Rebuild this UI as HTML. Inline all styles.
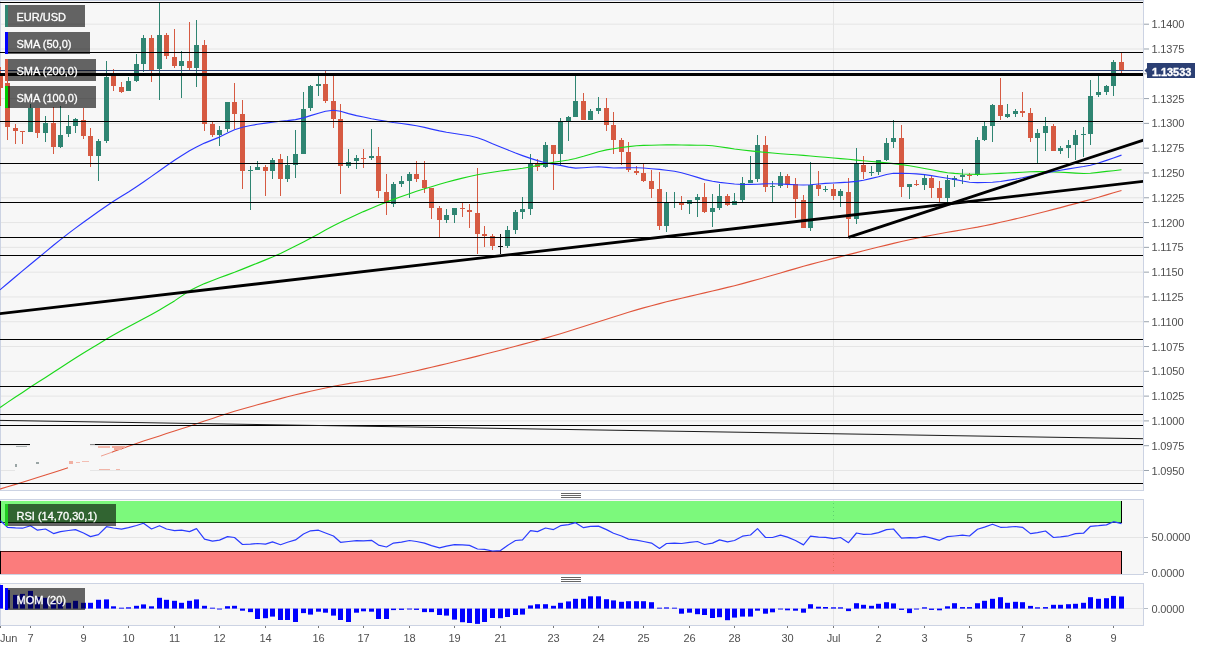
<!DOCTYPE html>
<html><head><meta charset="utf-8"><title>EUR/USD chart</title>
<style>html,body{margin:0;padding:0;background:#fff;}body{width:1214px;height:651px;overflow:hidden;}svg{display:block;}</style></head>
<body>
<svg width="1214" height="651" viewBox="0 0 1214 651" font-family="'Liberation Sans', Arial, sans-serif" font-size="11">
<rect width="1214" height="651" fill="#fff"/>
<rect x="0" y="0" width="1144" height="491" fill="#ccd3e3"/>
<rect x="1" y="1" width="1142" height="489" fill="#f7f7f7"/>
<rect x="0" y="499" width="1144" height="76" fill="#ccd3e3"/>
<rect x="1" y="500" width="1142" height="74" fill="#f7f7f7"/>
<rect x="0" y="583" width="1144" height="43" fill="#ccd3e3"/>
<rect x="1" y="584" width="1142" height="41" fill="#f7f7f7"/>
<g shape-rendering="crispEdges">
<rect x="1" y="23.70" width="1142" height="1" fill="#e5e5e5" shape-rendering="auto"/>
<rect x="1" y="48.49" width="1142" height="1" fill="#e5e5e5" shape-rendering="auto"/>
<rect x="1" y="73.29" width="1142" height="1" fill="#e5e5e5" shape-rendering="auto"/>
<rect x="1" y="98.08" width="1142" height="1" fill="#e5e5e5" shape-rendering="auto"/>
<rect x="1" y="122.88" width="1142" height="1" fill="#e5e5e5" shape-rendering="auto"/>
<rect x="1" y="147.67" width="1142" height="1" fill="#e5e5e5" shape-rendering="auto"/>
<rect x="1" y="172.46" width="1142" height="1" fill="#e5e5e5" shape-rendering="auto"/>
<rect x="1" y="197.26" width="1142" height="1" fill="#e5e5e5" shape-rendering="auto"/>
<rect x="1" y="222.05" width="1142" height="1" fill="#e5e5e5" shape-rendering="auto"/>
<rect x="1" y="246.85" width="1142" height="1" fill="#e5e5e5" shape-rendering="auto"/>
<rect x="1" y="271.64" width="1142" height="1" fill="#e5e5e5" shape-rendering="auto"/>
<rect x="1" y="296.43" width="1142" height="1" fill="#e5e5e5" shape-rendering="auto"/>
<rect x="1" y="321.23" width="1142" height="1" fill="#e5e5e5" shape-rendering="auto"/>
<rect x="1" y="346.02" width="1142" height="1" fill="#e5e5e5" shape-rendering="auto"/>
<rect x="1" y="370.82" width="1142" height="1" fill="#e5e5e5" shape-rendering="auto"/>
<rect x="1" y="395.61" width="1142" height="1" fill="#e5e5e5" shape-rendering="auto"/>
<rect x="1" y="420.40" width="1142" height="1" fill="#e5e5e5" shape-rendering="auto"/>
<rect x="1" y="445.20" width="1142" height="1" fill="#e5e5e5" shape-rendering="auto"/>
<rect x="1" y="469.99" width="1142" height="1" fill="#e5e5e5" shape-rendering="auto"/>
<rect x="15" y="469" width="75" height="3" fill="#f7f7f7"/>
<rect x="833" y="1" width="1" height="489" fill="#e5e5e5"/>
<rect x="833" y="500" width="1" height="74" fill="#e5e5e5"/>
<rect x="833" y="584" width="1" height="41" fill="#e5e5e5"/>
<rect x="1" y="537" width="1142" height="1" fill="#e5e5e5"/>
<rect x="1" y="608" width="1142" height="1" fill="#e5e5e5"/>
<rect x="0" y="67" width="1" height="39" fill="#d65a42"/>
<rect x="-2" y="76" width="5" height="12" fill="#d65a42"/>
<rect x="7" y="75" width="1" height="65" fill="#d65a42"/>
<rect x="5" y="83" width="5" height="44" fill="#d65a42"/>
<rect x="15" y="124" width="1" height="20" fill="#d65a42"/>
<rect x="13" y="128" width="5" height="3" fill="#d65a42"/>
<rect x="22" y="131" width="1" height="13" fill="#d65a42"/>
<rect x="20" y="131" width="5" height="1" fill="#d65a42"/>
<rect x="30" y="104" width="1" height="28" fill="#2f8572"/>
<rect x="28" y="108" width="5" height="24" fill="#2f8572"/>
<rect x="37" y="108" width="1" height="30" fill="#d65a42"/>
<rect x="35" y="108" width="5" height="25" fill="#d65a42"/>
<rect x="45" y="116" width="1" height="26" fill="#2f8572"/>
<rect x="43" y="123" width="5" height="10" fill="#2f8572"/>
<rect x="53" y="107" width="1" height="47" fill="#d65a42"/>
<rect x="51" y="123" width="5" height="24" fill="#d65a42"/>
<rect x="60" y="106" width="1" height="42" fill="#2f8572"/>
<rect x="58" y="135" width="5" height="12" fill="#2f8572"/>
<rect x="68" y="115" width="1" height="22" fill="#2f8572"/>
<rect x="66" y="126" width="5" height="8" fill="#2f8572"/>
<rect x="75" y="118" width="1" height="15" fill="#2f8572"/>
<rect x="73" y="119" width="5" height="7" fill="#2f8572"/>
<rect x="83" y="108" width="1" height="31" fill="#d65a42"/>
<rect x="81" y="120" width="5" height="16" fill="#d65a42"/>
<rect x="90" y="128" width="1" height="39" fill="#d65a42"/>
<rect x="88" y="136" width="5" height="20" fill="#d65a42"/>
<rect x="98" y="139" width="1" height="42" fill="#2f8572"/>
<rect x="96" y="141" width="5" height="15" fill="#2f8572"/>
<rect x="106" y="61" width="1" height="82" fill="#2f8572"/>
<rect x="104" y="77" width="5" height="64" fill="#2f8572"/>
<rect x="113" y="69" width="1" height="22" fill="#d65a42"/>
<rect x="111" y="76" width="5" height="10" fill="#d65a42"/>
<rect x="121" y="82" width="1" height="11" fill="#d65a42"/>
<rect x="119" y="87" width="5" height="5" fill="#d65a42"/>
<rect x="128" y="77" width="1" height="14" fill="#2f8572"/>
<rect x="126" y="81" width="5" height="10" fill="#2f8572"/>
<rect x="136" y="54" width="1" height="28" fill="#2f8572"/>
<rect x="134" y="64" width="5" height="17" fill="#2f8572"/>
<rect x="143" y="35" width="1" height="37" fill="#2f8572"/>
<rect x="141" y="38" width="5" height="26" fill="#2f8572"/>
<rect x="151" y="35" width="1" height="47" fill="#d65a42"/>
<rect x="149" y="38" width="5" height="32" fill="#d65a42"/>
<rect x="159" y="2" width="1" height="98" fill="#2f8572"/>
<rect x="157" y="35" width="5" height="34" fill="#2f8572"/>
<rect x="166" y="33" width="1" height="26" fill="#d65a42"/>
<rect x="164" y="35" width="5" height="21" fill="#d65a42"/>
<rect x="174" y="29" width="1" height="39" fill="#d65a42"/>
<rect x="172" y="57" width="5" height="9" fill="#d65a42"/>
<rect x="181" y="51" width="1" height="47" fill="#2f8572"/>
<rect x="179" y="61" width="5" height="5" fill="#2f8572"/>
<rect x="189" y="22" width="1" height="48" fill="#d65a42"/>
<rect x="187" y="61" width="5" height="7" fill="#d65a42"/>
<rect x="196" y="20" width="1" height="67" fill="#2f8572"/>
<rect x="194" y="45" width="5" height="23" fill="#2f8572"/>
<rect x="204" y="40" width="1" height="91" fill="#d65a42"/>
<rect x="202" y="45" width="5" height="79" fill="#d65a42"/>
<rect x="212" y="121" width="1" height="16" fill="#d65a42"/>
<rect x="210" y="124" width="5" height="11" fill="#d65a42"/>
<rect x="219" y="126" width="1" height="20" fill="#2f8572"/>
<rect x="217" y="130" width="5" height="5" fill="#2f8572"/>
<rect x="227" y="102" width="1" height="30" fill="#2f8572"/>
<rect x="225" y="102" width="5" height="27" fill="#2f8572"/>
<rect x="234" y="83" width="1" height="46" fill="#d65a42"/>
<rect x="232" y="102" width="5" height="12" fill="#d65a42"/>
<rect x="242" y="100" width="1" height="89" fill="#d65a42"/>
<rect x="240" y="114" width="5" height="57" fill="#d65a42"/>
<rect x="250" y="166" width="1" height="44" fill="#2f8572"/>
<rect x="248" y="170" width="5" height="1" fill="#2f8572"/>
<rect x="257" y="161" width="1" height="9" fill="#2f8572"/>
<rect x="255" y="167" width="5" height="3" fill="#2f8572"/>
<rect x="265" y="165" width="1" height="31" fill="#d65a42"/>
<rect x="263" y="167" width="5" height="4" fill="#d65a42"/>
<rect x="272" y="158" width="1" height="21" fill="#2f8572"/>
<rect x="270" y="160" width="5" height="11" fill="#2f8572"/>
<rect x="280" y="154" width="1" height="42" fill="#d65a42"/>
<rect x="278" y="159" width="5" height="20" fill="#d65a42"/>
<rect x="287" y="156" width="1" height="26" fill="#2f8572"/>
<rect x="285" y="165" width="5" height="14" fill="#2f8572"/>
<rect x="295" y="130" width="1" height="48" fill="#2f8572"/>
<rect x="293" y="154" width="5" height="11" fill="#2f8572"/>
<rect x="303" y="92" width="1" height="62" fill="#2f8572"/>
<rect x="301" y="109" width="5" height="45" fill="#2f8572"/>
<rect x="310" y="85" width="1" height="26" fill="#2f8572"/>
<rect x="308" y="86" width="5" height="22" fill="#2f8572"/>
<rect x="318" y="76" width="1" height="20" fill="#2f8572"/>
<rect x="316" y="84" width="5" height="2" fill="#2f8572"/>
<rect x="325" y="71" width="1" height="32" fill="#d65a42"/>
<rect x="323" y="84" width="5" height="17" fill="#d65a42"/>
<rect x="333" y="76" width="1" height="52" fill="#d65a42"/>
<rect x="331" y="101" width="5" height="18" fill="#d65a42"/>
<rect x="340" y="104" width="1" height="90" fill="#d65a42"/>
<rect x="338" y="119" width="5" height="47" fill="#d65a42"/>
<rect x="348" y="149" width="1" height="19" fill="#2f8572"/>
<rect x="346" y="162" width="5" height="4" fill="#2f8572"/>
<rect x="356" y="155" width="1" height="14" fill="#2f8572"/>
<rect x="354" y="158" width="5" height="3" fill="#2f8572"/>
<rect x="363" y="149" width="1" height="19" fill="#d65a42"/>
<rect x="361" y="158" width="5" height="1" fill="#d65a42"/>
<rect x="371" y="129" width="1" height="31" fill="#2f8572"/>
<rect x="369" y="156" width="5" height="2" fill="#2f8572"/>
<rect x="378" y="147" width="1" height="51" fill="#d65a42"/>
<rect x="376" y="156" width="5" height="35" fill="#d65a42"/>
<rect x="386" y="174" width="1" height="41" fill="#d65a42"/>
<rect x="384" y="192" width="5" height="11" fill="#d65a42"/>
<rect x="393" y="182" width="1" height="25" fill="#2f8572"/>
<rect x="391" y="184" width="5" height="20" fill="#2f8572"/>
<rect x="401" y="176" width="1" height="11" fill="#2f8572"/>
<rect x="399" y="181" width="5" height="3" fill="#2f8572"/>
<rect x="409" y="172" width="1" height="26" fill="#2f8572"/>
<rect x="407" y="174" width="5" height="7" fill="#2f8572"/>
<rect x="416" y="161" width="1" height="21" fill="#d65a42"/>
<rect x="414" y="174" width="5" height="5" fill="#d65a42"/>
<rect x="424" y="161" width="1" height="32" fill="#d65a42"/>
<rect x="422" y="180" width="5" height="8" fill="#d65a42"/>
<rect x="431" y="188" width="1" height="31" fill="#d65a42"/>
<rect x="429" y="188" width="5" height="20" fill="#d65a42"/>
<rect x="439" y="206" width="1" height="31" fill="#d65a42"/>
<rect x="437" y="208" width="5" height="12" fill="#d65a42"/>
<rect x="446" y="209" width="1" height="14" fill="#2f8572"/>
<rect x="444" y="215" width="5" height="5" fill="#2f8572"/>
<rect x="454" y="208" width="1" height="15" fill="#2f8572"/>
<rect x="452" y="208" width="5" height="7" fill="#2f8572"/>
<rect x="462" y="202" width="1" height="15" fill="#d65a42"/>
<rect x="460" y="208" width="5" height="1" fill="#d65a42"/>
<rect x="469" y="204" width="1" height="24" fill="#d65a42"/>
<rect x="467" y="210" width="5" height="2" fill="#d65a42"/>
<rect x="477" y="168" width="1" height="86" fill="#d65a42"/>
<rect x="475" y="213" width="5" height="21" fill="#d65a42"/>
<rect x="484" y="226" width="1" height="21" fill="#d65a42"/>
<rect x="482" y="234" width="5" height="2" fill="#d65a42"/>
<rect x="492" y="234" width="1" height="16" fill="#d65a42"/>
<rect x="490" y="236" width="5" height="10" fill="#d65a42"/>
<rect x="500" y="234" width="1" height="20" fill="#111"/>
<rect x="498" y="246" width="5" height="1" fill="#111"/>
<rect x="507" y="226" width="1" height="22" fill="#2f8572"/>
<rect x="505" y="230" width="5" height="16" fill="#2f8572"/>
<rect x="515" y="210" width="1" height="24" fill="#2f8572"/>
<rect x="513" y="212" width="5" height="18" fill="#2f8572"/>
<rect x="522" y="197" width="1" height="22" fill="#2f8572"/>
<rect x="520" y="209" width="5" height="3" fill="#2f8572"/>
<rect x="530" y="154" width="1" height="61" fill="#2f8572"/>
<rect x="528" y="164" width="5" height="45" fill="#2f8572"/>
<rect x="537" y="159" width="1" height="12" fill="#d65a42"/>
<rect x="535" y="164" width="5" height="3" fill="#d65a42"/>
<rect x="545" y="142" width="1" height="26" fill="#2f8572"/>
<rect x="543" y="145" width="5" height="22" fill="#2f8572"/>
<rect x="553" y="145" width="1" height="45" fill="#d65a42"/>
<rect x="551" y="145" width="5" height="9" fill="#d65a42"/>
<rect x="560" y="118" width="1" height="48" fill="#2f8572"/>
<rect x="558" y="122" width="5" height="32" fill="#2f8572"/>
<rect x="568" y="116" width="1" height="25" fill="#2f8572"/>
<rect x="566" y="117" width="5" height="4" fill="#2f8572"/>
<rect x="575" y="76" width="1" height="41" fill="#2f8572"/>
<rect x="573" y="101" width="5" height="16" fill="#2f8572"/>
<rect x="583" y="93" width="1" height="27" fill="#d65a42"/>
<rect x="581" y="101" width="5" height="19" fill="#d65a42"/>
<rect x="590" y="109" width="1" height="11" fill="#2f8572"/>
<rect x="588" y="111" width="5" height="9" fill="#2f8572"/>
<rect x="598" y="97" width="1" height="17" fill="#2f8572"/>
<rect x="596" y="108" width="5" height="3" fill="#2f8572"/>
<rect x="606" y="98" width="1" height="33" fill="#d65a42"/>
<rect x="604" y="108" width="5" height="17" fill="#d65a42"/>
<rect x="613" y="112" width="1" height="42" fill="#d65a42"/>
<rect x="611" y="125" width="5" height="15" fill="#d65a42"/>
<rect x="621" y="138" width="1" height="27" fill="#d65a42"/>
<rect x="619" y="140" width="5" height="12" fill="#d65a42"/>
<rect x="628" y="142" width="1" height="30" fill="#d65a42"/>
<rect x="626" y="152" width="5" height="18" fill="#d65a42"/>
<rect x="636" y="166" width="1" height="9" fill="#d65a42"/>
<rect x="634" y="171" width="5" height="2" fill="#d65a42"/>
<rect x="643" y="164" width="1" height="18" fill="#d65a42"/>
<rect x="641" y="173" width="5" height="8" fill="#d65a42"/>
<rect x="651" y="170" width="1" height="28" fill="#d65a42"/>
<rect x="649" y="181" width="5" height="8" fill="#d65a42"/>
<rect x="659" y="172" width="1" height="58" fill="#d65a42"/>
<rect x="657" y="189" width="5" height="37" fill="#d65a42"/>
<rect x="666" y="192" width="1" height="40" fill="#2f8572"/>
<rect x="664" y="203" width="5" height="23" fill="#2f8572"/>
<rect x="674" y="192" width="1" height="16" fill="#2f8572"/>
<rect x="672" y="202" width="5" height="1" fill="#2f8572"/>
<rect x="681" y="196" width="1" height="14" fill="#d65a42"/>
<rect x="679" y="203" width="5" height="2" fill="#d65a42"/>
<rect x="689" y="200" width="1" height="14" fill="#2f8572"/>
<rect x="687" y="200" width="5" height="4" fill="#2f8572"/>
<rect x="697" y="194" width="1" height="23" fill="#2f8572"/>
<rect x="695" y="197" width="5" height="3" fill="#2f8572"/>
<rect x="704" y="183" width="1" height="30" fill="#d65a42"/>
<rect x="702" y="197" width="5" height="15" fill="#d65a42"/>
<rect x="712" y="194" width="1" height="33" fill="#2f8572"/>
<rect x="710" y="208" width="5" height="4" fill="#2f8572"/>
<rect x="719" y="184" width="1" height="26" fill="#2f8572"/>
<rect x="717" y="196" width="5" height="12" fill="#2f8572"/>
<rect x="727" y="194" width="1" height="12" fill="#d65a42"/>
<rect x="725" y="196" width="5" height="9" fill="#d65a42"/>
<rect x="734" y="193" width="1" height="12" fill="#2f8572"/>
<rect x="732" y="201" width="5" height="4" fill="#2f8572"/>
<rect x="742" y="177" width="1" height="25" fill="#2f8572"/>
<rect x="740" y="183" width="5" height="17" fill="#2f8572"/>
<rect x="750" y="156" width="1" height="27" fill="#2f8572"/>
<rect x="748" y="180" width="5" height="3" fill="#2f8572"/>
<rect x="757" y="135" width="1" height="47" fill="#2f8572"/>
<rect x="755" y="145" width="5" height="34" fill="#2f8572"/>
<rect x="765" y="136" width="1" height="56" fill="#d65a42"/>
<rect x="763" y="145" width="5" height="42" fill="#d65a42"/>
<rect x="772" y="181" width="1" height="22" fill="#2f8572"/>
<rect x="770" y="186" width="5" height="1" fill="#2f8572"/>
<rect x="780" y="172" width="1" height="16" fill="#2f8572"/>
<rect x="778" y="176" width="5" height="10" fill="#2f8572"/>
<rect x="787" y="174" width="1" height="14" fill="#d65a42"/>
<rect x="785" y="176" width="5" height="8" fill="#d65a42"/>
<rect x="795" y="178" width="1" height="40" fill="#d65a42"/>
<rect x="793" y="184" width="5" height="15" fill="#d65a42"/>
<rect x="803" y="195" width="1" height="33" fill="#d65a42"/>
<rect x="801" y="200" width="5" height="28" fill="#d65a42"/>
<rect x="810" y="162" width="1" height="69" fill="#2f8572"/>
<rect x="808" y="185" width="5" height="43" fill="#2f8572"/>
<rect x="818" y="171" width="1" height="25" fill="#d65a42"/>
<rect x="816" y="185" width="5" height="4" fill="#d65a42"/>
<rect x="825" y="186" width="1" height="6" fill="#2f8572"/>
<rect x="823" y="189" width="5" height="1" fill="#2f8572"/>
<rect x="833" y="184" width="1" height="16" fill="#d65a42"/>
<rect x="831" y="189" width="5" height="7" fill="#d65a42"/>
<rect x="840" y="189" width="1" height="18" fill="#2f8572"/>
<rect x="838" y="191" width="5" height="5" fill="#2f8572"/>
<rect x="848" y="178" width="1" height="59" fill="#d65a42"/>
<rect x="846" y="192" width="5" height="27" fill="#d65a42"/>
<rect x="856" y="148" width="1" height="76" fill="#2f8572"/>
<rect x="854" y="164" width="5" height="55" fill="#2f8572"/>
<rect x="863" y="156" width="1" height="23" fill="#d65a42"/>
<rect x="861" y="165" width="5" height="7" fill="#d65a42"/>
<rect x="871" y="166" width="1" height="10" fill="#2f8572"/>
<rect x="869" y="172" width="5" height="1" fill="#2f8572"/>
<rect x="878" y="160" width="1" height="15" fill="#2f8572"/>
<rect x="876" y="160" width="5" height="12" fill="#2f8572"/>
<rect x="886" y="138" width="1" height="23" fill="#2f8572"/>
<rect x="884" y="143" width="5" height="17" fill="#2f8572"/>
<rect x="893" y="120" width="1" height="28" fill="#2f8572"/>
<rect x="891" y="138" width="5" height="4" fill="#2f8572"/>
<rect x="901" y="125" width="1" height="72" fill="#d65a42"/>
<rect x="899" y="138" width="5" height="49" fill="#d65a42"/>
<rect x="909" y="184" width="1" height="15" fill="#2f8572"/>
<rect x="907" y="184" width="5" height="3" fill="#2f8572"/>
<rect x="916" y="180" width="1" height="6" fill="#d65a42"/>
<rect x="914" y="184" width="5" height="1" fill="#d65a42"/>
<rect x="924" y="174" width="1" height="16" fill="#2f8572"/>
<rect x="922" y="178" width="5" height="7" fill="#2f8572"/>
<rect x="931" y="176" width="1" height="22" fill="#d65a42"/>
<rect x="929" y="178" width="5" height="10" fill="#d65a42"/>
<rect x="939" y="181" width="1" height="21" fill="#d65a42"/>
<rect x="937" y="188" width="5" height="10" fill="#d65a42"/>
<rect x="947" y="175" width="1" height="27" fill="#2f8572"/>
<rect x="945" y="180" width="5" height="18" fill="#2f8572"/>
<rect x="954" y="176" width="1" height="11" fill="#2f8572"/>
<rect x="952" y="178" width="5" height="2" fill="#2f8572"/>
<rect x="962" y="169" width="1" height="15" fill="#2f8572"/>
<rect x="960" y="175" width="5" height="2" fill="#2f8572"/>
<rect x="969" y="173" width="1" height="7" fill="#d65a42"/>
<rect x="967" y="175" width="5" height="1" fill="#d65a42"/>
<rect x="977" y="137" width="1" height="39" fill="#2f8572"/>
<rect x="975" y="140" width="5" height="35" fill="#2f8572"/>
<rect x="984" y="121" width="1" height="20" fill="#2f8572"/>
<rect x="982" y="126" width="5" height="14" fill="#2f8572"/>
<rect x="992" y="104" width="1" height="38" fill="#2f8572"/>
<rect x="990" y="105" width="5" height="21" fill="#2f8572"/>
<rect x="1000" y="78" width="1" height="42" fill="#d65a42"/>
<rect x="998" y="105" width="5" height="11" fill="#d65a42"/>
<rect x="1007" y="104" width="1" height="14" fill="#2f8572"/>
<rect x="1005" y="114" width="5" height="3" fill="#2f8572"/>
<rect x="1015" y="109" width="1" height="8" fill="#2f8572"/>
<rect x="1013" y="111" width="5" height="3" fill="#2f8572"/>
<rect x="1022" y="92" width="1" height="25" fill="#d65a42"/>
<rect x="1020" y="111" width="5" height="2" fill="#d65a42"/>
<rect x="1030" y="108" width="1" height="34" fill="#d65a42"/>
<rect x="1028" y="113" width="5" height="25" fill="#d65a42"/>
<rect x="1037" y="129" width="1" height="34" fill="#2f8572"/>
<rect x="1035" y="133" width="5" height="5" fill="#2f8572"/>
<rect x="1045" y="117" width="1" height="34" fill="#2f8572"/>
<rect x="1043" y="126" width="5" height="7" fill="#2f8572"/>
<rect x="1053" y="124" width="1" height="27" fill="#d65a42"/>
<rect x="1051" y="126" width="5" height="25" fill="#d65a42"/>
<rect x="1060" y="146" width="1" height="8" fill="#2f8572"/>
<rect x="1058" y="148" width="5" height="3" fill="#2f8572"/>
<rect x="1068" y="140" width="1" height="18" fill="#2f8572"/>
<rect x="1066" y="145" width="5" height="3" fill="#2f8572"/>
<rect x="1075" y="130" width="1" height="30" fill="#2f8572"/>
<rect x="1073" y="135" width="5" height="10" fill="#2f8572"/>
<rect x="1083" y="127" width="1" height="30" fill="#2f8572"/>
<rect x="1081" y="134" width="5" height="1" fill="#2f8572"/>
<rect x="1090" y="80" width="1" height="65" fill="#2f8572"/>
<rect x="1088" y="96" width="5" height="38" fill="#2f8572"/>
<rect x="1098" y="73" width="1" height="24" fill="#2f8572"/>
<rect x="1096" y="92" width="5" height="3" fill="#2f8572"/>
<rect x="1106" y="85" width="1" height="10" fill="#2f8572"/>
<rect x="1104" y="86" width="5" height="6" fill="#2f8572"/>
<rect x="1113" y="60" width="1" height="36" fill="#2f8572"/>
<rect x="1111" y="62" width="5" height="24" fill="#2f8572"/>
<rect x="1121" y="53" width="1" height="20" fill="#d65a42"/>
<rect x="1119" y="62" width="5" height="8" fill="#d65a42"/>
</g>
<polyline points="0.0,489.0 0.5,488.9 7.5,486.8 15.5,484.4 22.5,482.2 30.5,479.8 37.5,477.6 45.5,475.0 53.5,472.5 60.5,470.2 68.0,467.7" fill="none" stroke="#e0563c" stroke-width="1.1" stroke-linejoin="round" />
<polyline points="101.0,456.1 112.0,452.2" fill="none" stroke="#eea091" stroke-width="1.0" stroke-linejoin="round" />
<polyline points="112.0,452.2 113.5,451.6 121.5,448.7 128.5,446.3 136.5,443.5 143.5,441.1 151.5,438.5 159.5,435.9 166.5,433.6 174.5,431.0 181.5,428.8 189.5,426.2 196.5,423.8 204.5,421.1 212.5,418.4 219.5,416.1 227.5,413.5 234.5,411.3 242.5,409.0 250.5,406.7 257.5,404.8 265.5,402.6 272.5,400.7 280.5,398.6 287.5,396.8 295.5,394.8 303.5,392.9 310.5,391.3 318.5,389.5 325.5,388.0 333.5,386.4 340.5,385.0 348.5,383.6 356.5,382.3 363.5,381.2 371.5,379.8 378.5,378.6 386.5,377.1 393.5,375.7 401.5,374.0 409.5,372.2 416.5,370.7 424.5,368.9 431.5,367.2 439.5,365.4 446.5,363.7 454.5,361.8 462.5,359.8 469.5,358.1 477.5,356.1 484.5,354.3 492.5,352.3 500.5,350.2 507.5,348.4 515.5,346.2 522.5,344.4 530.5,342.2 537.5,340.3 545.5,338.1 553.5,335.8 560.5,333.7 568.5,331.3 575.5,329.1 583.5,326.5 590.5,324.3 598.5,321.7 606.5,319.2 613.5,316.9 621.5,314.4 628.5,312.3 636.5,309.9 643.5,307.9 651.5,305.7 659.5,303.6 666.5,301.8 674.5,299.9 681.5,298.2 689.5,296.4 697.5,294.5 704.5,292.9 712.5,291.0 719.5,289.4 727.5,287.4 734.5,285.7 742.5,283.6 750.5,281.4 757.5,279.5 765.5,277.3 772.5,275.3 780.5,273.0 787.5,270.9 795.5,268.6 803.5,266.3 810.5,264.4 818.5,262.3 825.5,260.5 833.5,258.4 840.5,256.6 848.5,254.6 856.5,252.6 863.5,250.8 871.5,248.8 878.5,247.0 886.5,245.1 893.5,243.4 901.5,241.5 909.5,239.7 916.5,238.2 924.5,236.6 931.5,235.2 939.5,233.7 947.5,232.3 954.5,231.1 962.5,229.7 969.5,228.5 977.5,227.1 984.5,225.7 992.5,224.1 1000.5,222.3 1007.5,220.7 1015.5,218.9 1022.5,217.2 1030.5,215.3 1037.5,213.5 1045.5,211.5 1053.5,209.4 1060.5,207.6 1068.5,205.4 1075.5,203.6 1083.5,201.4 1090.5,199.5 1098.5,197.3 1106.5,194.9 1113.5,192.8 1121.5,190.5" fill="none" stroke="#e0563c" stroke-width="1.1" stroke-linejoin="round" />
<polyline points="0.0,407.5 0.5,407.2 7.5,402.4 15.5,397.0 22.5,392.4 30.5,387.1 37.5,382.6 45.5,377.4 53.5,372.2 60.5,367.7 68.5,362.6 75.5,358.1 83.5,353.1 90.5,348.8 98.5,343.9 106.5,339.1 113.5,335.0 121.5,330.6 128.5,326.8 136.5,322.5 143.5,318.7 151.5,314.4 159.5,309.9 166.5,305.8 174.5,300.9 181.5,296.1 189.5,290.7 196.5,287.2 204.5,283.6 212.5,280.5 219.5,277.8 227.5,274.9 234.5,272.3 242.5,269.1 250.5,265.9 257.5,263.1 265.5,259.9 272.5,257.0 280.5,253.4 287.5,250.0 295.5,246.0 303.5,241.9 310.5,238.2 318.5,234.0 325.5,230.1 333.5,225.8 340.5,222.3 348.5,218.5 356.5,214.8 363.5,211.6 371.5,208.2 378.5,205.3 386.5,202.1 393.5,199.4 401.5,196.5 409.5,193.7 416.5,191.3 424.5,188.8 431.5,186.7 439.5,184.3 446.5,182.3 454.5,180.1 462.5,178.1 469.5,176.5 477.5,174.8 484.5,173.5 492.5,172.2 500.5,171.0 507.5,170.1 515.5,169.2 522.5,168.3 530.5,167.0 537.5,165.4 545.5,163.7 553.5,162.3 560.5,161.3 568.5,160.0 575.5,158.5 583.5,156.3 590.5,154.2 598.5,151.8 606.5,149.9 613.5,148.7 621.5,147.5 628.5,146.6 636.5,145.8 643.5,145.4 651.5,145.2 659.5,145.0 666.5,144.9 674.5,144.9 681.5,145.0 689.5,145.1 697.5,145.2 704.5,145.3 712.5,145.8 719.5,146.7 727.5,147.9 734.5,149.0 742.5,150.0 750.5,150.9 757.5,151.6 765.5,152.4 772.5,153.0 780.5,153.7 787.5,154.2 795.5,154.8 803.5,155.4 810.5,156.0 818.5,156.7 825.5,157.3 833.5,158.0 840.5,158.6 848.5,159.3 856.5,160.1 863.5,160.7 871.5,161.5 878.5,162.1 886.5,162.9 893.5,163.6 901.5,164.6 909.5,165.8 916.5,167.0 924.5,168.5 931.5,169.8 939.5,171.4 947.5,172.7 954.5,173.4 962.5,174.0 969.5,174.3 977.5,174.4 984.5,174.2 992.5,173.8 1000.5,173.4 1007.5,173.0 1015.5,172.6 1022.5,172.2 1030.5,171.8 1037.5,171.6 1045.5,171.6 1053.5,171.9 1060.5,172.2 1068.5,172.6 1075.5,173.1 1083.5,173.5 1090.5,173.3 1098.5,172.4 1106.5,171.4 1113.5,170.7 1121.5,169.8" fill="none" stroke="#1ad81a" stroke-width="1.15" stroke-linejoin="round" />
<polyline points="0.0,289.8 0.5,289.4 7.5,283.5 15.5,276.8 22.5,270.9 30.5,264.3 37.5,258.5 45.5,251.9 53.5,245.3 60.5,239.6 68.5,233.4 75.5,228.1 83.5,222.2 90.5,217.2 98.5,211.5 106.5,206.0 113.5,201.3 121.5,196.2 128.5,191.9 136.5,186.7 143.5,182.0 151.5,176.4 159.5,170.7 166.5,165.8 174.5,160.3 181.5,155.7 189.5,150.8 196.5,147.0 204.5,143.1 212.5,139.9 219.5,137.1 227.5,133.1 234.5,129.7 242.5,127.2 250.5,125.5 257.5,124.3 265.5,123.1 272.5,122.2 280.5,121.3 287.5,120.6 295.5,119.6 303.5,117.9 310.5,115.6 318.5,113.2 325.5,111.3 333.5,110.2 340.5,111.3 348.5,113.6 356.5,115.6 363.5,117.0 371.5,118.7 378.5,120.0 386.5,121.4 393.5,122.5 401.5,123.5 409.5,124.6 416.5,125.7 424.5,127.4 431.5,129.1 439.5,130.9 446.5,132.3 454.5,133.5 462.5,134.7 469.5,135.8 477.5,137.7 484.5,140.3 492.5,143.8 500.5,147.0 507.5,149.8 515.5,153.0 522.5,155.6 530.5,158.4 537.5,160.6 545.5,162.7 553.5,164.2 560.5,165.4 568.5,167.1 575.5,168.1 583.5,167.7 590.5,167.2 598.5,166.8 606.5,167.4 613.5,168.0 621.5,167.9 628.5,167.8 636.5,167.7 643.5,168.0 651.5,168.7 659.5,169.4 666.5,170.2 674.5,171.3 681.5,172.7 689.5,175.0 697.5,177.4 704.5,179.6 712.5,181.3 719.5,182.4 727.5,183.3 734.5,184.0 742.5,184.5 750.5,184.4 757.5,184.2 765.5,183.8 772.5,183.7 780.5,184.0 787.5,184.4 795.5,184.8 803.5,185.0 810.5,184.7 818.5,184.0 825.5,183.4 833.5,183.0 840.5,182.6 848.5,182.1 856.5,181.4 863.5,180.2 871.5,178.4 878.5,176.8 886.5,174.5 893.5,173.3 901.5,173.3 909.5,173.5 916.5,173.9 924.5,174.6 931.5,175.6 939.5,177.0 947.5,178.3 954.5,179.4 962.5,181.0 969.5,182.2 977.5,182.6 984.5,182.5 992.5,182.2 1000.5,181.5 1007.5,180.4 1015.5,179.1 1022.5,177.8 1030.5,176.1 1037.5,174.6 1045.5,173.1 1053.5,171.5 1060.5,170.3 1068.5,168.9 1075.5,167.8 1083.5,166.5 1090.5,165.2 1098.5,163.0 1106.5,160.4 1113.5,158.0 1121.5,155.1" fill="none" stroke="#2a38ff" stroke-width="1.15" stroke-linejoin="round" />
<g shape-rendering="crispEdges">
<rect x="0" y="2" width="1143" height="1" fill="#000"/>
<rect x="0" y="52" width="1143" height="1" fill="#000"/>
<rect x="0" y="121" width="1143" height="1" fill="#000"/>
<rect x="0" y="163" width="1143" height="1" fill="#000"/>
<rect x="0" y="202" width="1143" height="1" fill="#000"/>
<rect x="0" y="237" width="1143" height="1" fill="#000"/>
<rect x="0" y="255" width="1143" height="1" fill="#000"/>
<rect x="0" y="339" width="1143" height="1" fill="#000"/>
<rect x="0" y="386" width="1143" height="1" fill="#000"/>
<rect x="0" y="414" width="1143" height="1" fill="#000"/>
<rect x="0" y="425" width="1143" height="1" fill="#000"/>
<rect x="0" y="444" width="1143" height="1" fill="#000"/>
<rect x="0" y="483" width="1143" height="1" fill="#000"/>
<rect x="0" y="73" width="1143" height="3" fill="#000"/>
<rect x="30" y="443" width="60" height="4" fill="#f7f7f7"/>
<rect x="90" y="444" width="5" height="1" fill="#888"/>
<rect x="98" y="446" width="12" height="2" fill="#f3b9ad" shape-rendering="auto"/>
<rect x="112" y="446" width="13" height="2" fill="#f0a899" shape-rendering="auto"/>
<rect x="114" y="448" width="8" height="2" fill="#f0a899" shape-rendering="auto"/>
<rect x="69" y="461" width="4" height="3" fill="#f1b0a2" shape-rendering="auto"/>
<rect x="76" y="462" width="4" height="1" fill="#f3beb3" shape-rendering="auto"/>
<rect x="82" y="461" width="7" height="1" fill="#f3beb3" shape-rendering="auto"/>
<rect x="99" y="469" width="11" height="1" fill="#f1b5a8" shape-rendering="auto"/>
<rect x="116" y="469" width="4" height="1" fill="#f1b5a8" shape-rendering="auto"/>
<rect x="16" y="446" width="11" height="1" fill="#a9b0b0" shape-rendering="auto"/>
<rect x="15" y="464" width="2" height="3" fill="#9aa5a5" shape-rendering="auto"/>
<rect x="36" y="462" width="3" height="2" fill="#9aa5a5" shape-rendering="auto"/>
<rect x="0" y="70" width="1143" height="1" fill="#2d4175"/>
</g>
<clipPath id="mc"><rect x="0" y="1" width="1143" height="489"/></clipPath>
<g clip-path="url(#mc)">
<line x1="0" y1="420.4" x2="1143" y2="438.7" stroke="#1a1a1a" stroke-width="1"/>
<line x1="-10" y1="314.76" x2="1153.5" y2="180.24" stroke="#000" stroke-width="2.8"/>
<line x1="848.5" y1="237.3" x2="1153.5" y2="136.8" stroke="#000" stroke-width="2.8"/>
</g>
<g shape-rendering="crispEdges">
<rect x="0" y="501" width="1122" height="22" fill="#7cf97c"/>
<rect x="0" y="551" width="1122" height="23" fill="#fb7c7c"/>
<rect x="0" y="522" width="1122" height="1" fill="#134a13"/>
<rect x="0" y="551" width="1122" height="1" fill="#4a0c0c"/>
<rect x="0" y="501" width="1" height="22" fill="#000"/>
<rect x="0" y="551" width="1" height="23" fill="#000"/>
<rect x="1121" y="501" width="1" height="22" fill="#000"/>
<rect x="1121" y="551" width="1" height="23" fill="#000"/>
<rect x="833" y="503" width="1" height="1" fill="#5fcf6f"/>
<rect x="833" y="507" width="1" height="1" fill="#5fcf6f"/>
<rect x="833" y="511" width="1" height="1" fill="#5fcf6f"/>
<rect x="833" y="515" width="1" height="1" fill="#5fcf6f"/>
<rect x="833" y="519" width="1" height="1" fill="#5fcf6f"/>
<rect x="833" y="554" width="1" height="1" fill="#e06a5a"/>
<rect x="833" y="558" width="1" height="1" fill="#e06a5a"/>
<rect x="833" y="562" width="1" height="1" fill="#e06a5a"/>
<rect x="833" y="566" width="1" height="1" fill="#e06a5a"/>
<rect x="833" y="570" width="1" height="1" fill="#e06a5a"/>
</g>
<g fill="#0000ff">
<rect x="-2" y="585.0" width="5" height="23.6"/>
<rect x="5" y="590.0" width="5" height="18.6"/>
<rect x="13" y="594.9" width="5" height="13.7"/>
<rect x="20" y="593.9" width="5" height="14.7"/>
<rect x="28" y="590.9" width="5" height="17.7"/>
<rect x="35" y="596.9" width="5" height="11.7"/>
<rect x="43" y="597.8" width="5" height="10.8"/>
<rect x="51" y="600.8" width="5" height="7.8"/>
<rect x="58" y="601.8" width="5" height="6.8"/>
<rect x="66" y="602.8" width="5" height="5.8"/>
<rect x="73" y="600.8" width="5" height="7.8"/>
<rect x="81" y="602.8" width="5" height="5.8"/>
<rect x="88" y="602.8" width="5" height="5.8"/>
<rect x="96" y="599.8" width="5" height="8.8"/>
<rect x="104" y="599.4" width="5" height="9.2"/>
<rect x="111" y="606.3" width="5" height="2.3"/>
<rect x="119" y="607.7" width="5" height="0.9"/>
<rect x="126" y="607.3" width="5" height="1.3"/>
<rect x="134" y="605.8" width="5" height="2.8"/>
<rect x="141" y="604.4" width="5" height="4.2"/>
<rect x="149" y="606.3" width="5" height="2.3"/>
<rect x="157" y="597.8" width="5" height="10.8"/>
<rect x="164" y="599.8" width="5" height="8.8"/>
<rect x="172" y="600.8" width="5" height="7.8"/>
<rect x="179" y="602.8" width="5" height="5.8"/>
<rect x="187" y="600.8" width="5" height="7.8"/>
<rect x="194" y="599.4" width="5" height="9.2"/>
<rect x="202" y="605.8" width="5" height="2.8"/>
<rect x="210" y="607.7" width="5" height="0.9"/>
<rect x="217" y="608.6" width="5" height="0.9"/>
<rect x="225" y="606.2" width="5" height="2.4"/>
<rect x="232" y="605.8" width="5" height="2.8"/>
<rect x="240" y="608.6" width="5" height="2.1"/>
<rect x="248" y="608.6" width="5" height="3.5"/>
<rect x="255" y="608.6" width="5" height="10.4"/>
<rect x="263" y="608.6" width="5" height="9.6"/>
<rect x="270" y="608.6" width="5" height="8.0"/>
<rect x="278" y="608.6" width="5" height="11.4"/>
<rect x="285" y="608.6" width="5" height="11.4"/>
<rect x="293" y="608.6" width="5" height="13.4"/>
<rect x="301" y="608.6" width="5" height="4.5"/>
<rect x="308" y="608.6" width="5" height="6.0"/>
<rect x="316" y="608.6" width="5" height="3.1"/>
<rect x="323" y="608.6" width="5" height="4.1"/>
<rect x="331" y="608.6" width="5" height="7.0"/>
<rect x="338" y="608.6" width="5" height="11.4"/>
<rect x="346" y="608.6" width="5" height="13.4"/>
<rect x="354" y="608.6" width="5" height="4.1"/>
<rect x="361" y="608.6" width="5" height="2.7"/>
<rect x="369" y="608.6" width="5" height="3.1"/>
<rect x="376" y="608.6" width="5" height="10.4"/>
<rect x="384" y="608.6" width="5" height="10.4"/>
<rect x="391" y="608.6" width="5" height="1.5"/>
<rect x="399" y="608.6" width="5" height="1.3"/>
<rect x="407" y="608.6" width="5" height="0.9"/>
<rect x="414" y="608.6" width="5" height="1.3"/>
<rect x="422" y="608.6" width="5" height="3.5"/>
<rect x="429" y="608.6" width="5" height="3.5"/>
<rect x="437" y="608.6" width="5" height="6.4"/>
<rect x="444" y="608.6" width="5" height="7.0"/>
<rect x="452" y="608.6" width="5" height="11.0"/>
<rect x="460" y="608.6" width="5" height="13.6"/>
<rect x="467" y="608.6" width="5" height="14.4"/>
<rect x="475" y="608.6" width="5" height="15.3"/>
<rect x="482" y="608.6" width="5" height="13.4"/>
<rect x="490" y="608.6" width="5" height="9.4"/>
<rect x="498" y="608.6" width="5" height="9.6"/>
<rect x="505" y="608.6" width="5" height="8.4"/>
<rect x="513" y="608.6" width="5" height="6.4"/>
<rect x="520" y="608.6" width="5" height="6.0"/>
<rect x="528" y="605.4" width="5" height="3.2"/>
<rect x="535" y="604.2" width="5" height="4.4"/>
<rect x="543" y="604.2" width="5" height="4.4"/>
<rect x="551" y="605.8" width="5" height="2.8"/>
<rect x="558" y="602.8" width="5" height="5.8"/>
<rect x="566" y="601.4" width="5" height="7.2"/>
<rect x="573" y="598.8" width="5" height="9.8"/>
<rect x="581" y="598.8" width="5" height="9.8"/>
<rect x="588" y="596.3" width="5" height="12.3"/>
<rect x="596" y="596.3" width="5" height="12.3"/>
<rect x="604" y="599.2" width="5" height="9.4"/>
<rect x="611" y="600.4" width="5" height="8.2"/>
<rect x="619" y="601.8" width="5" height="6.8"/>
<rect x="626" y="601.2" width="5" height="7.4"/>
<rect x="634" y="601.2" width="5" height="7.4"/>
<rect x="641" y="601.2" width="5" height="7.4"/>
<rect x="649" y="602.2" width="5" height="6.4"/>
<rect x="657" y="607.7" width="5" height="0.9"/>
<rect x="664" y="607.4" width="5" height="1.2"/>
<rect x="672" y="607.7" width="5" height="0.9"/>
<rect x="679" y="608.6" width="5" height="5.1"/>
<rect x="687" y="608.6" width="5" height="4.1"/>
<rect x="695" y="608.6" width="5" height="5.6"/>
<rect x="702" y="608.6" width="5" height="6.4"/>
<rect x="710" y="608.6" width="5" height="9.4"/>
<rect x="717" y="608.6" width="5" height="8.6"/>
<rect x="725" y="608.6" width="5" height="11.6"/>
<rect x="732" y="608.6" width="5" height="9.0"/>
<rect x="740" y="608.6" width="5" height="8.0"/>
<rect x="748" y="608.6" width="5" height="8.0"/>
<rect x="755" y="608.6" width="5" height="2.1"/>
<rect x="763" y="608.6" width="5" height="5.1"/>
<rect x="770" y="608.6" width="5" height="3.7"/>
<rect x="778" y="608.6" width="5" height="0.9"/>
<rect x="785" y="608.6" width="5" height="1.7"/>
<rect x="793" y="608.6" width="5" height="2.1"/>
<rect x="801" y="608.6" width="5" height="4.1"/>
<rect x="808" y="604.2" width="5" height="4.4"/>
<rect x="816" y="606.7" width="5" height="1.9"/>
<rect x="823" y="607.0" width="5" height="1.6"/>
<rect x="831" y="607.3" width="5" height="1.3"/>
<rect x="838" y="607.3" width="5" height="1.3"/>
<rect x="846" y="608.6" width="5" height="2.5"/>
<rect x="854" y="603.2" width="5" height="5.4"/>
<rect x="861" y="604.8" width="5" height="3.8"/>
<rect x="869" y="605.8" width="5" height="2.8"/>
<rect x="876" y="603.8" width="5" height="4.8"/>
<rect x="884" y="602.2" width="5" height="6.4"/>
<rect x="891" y="603.4" width="5" height="5.2"/>
<rect x="899" y="608.6" width="5" height="1.3"/>
<rect x="907" y="608.6" width="5" height="4.5"/>
<rect x="914" y="608.6" width="5" height="0.9"/>
<rect x="922" y="607.3" width="5" height="1.3"/>
<rect x="929" y="608.6" width="5" height="1.3"/>
<rect x="937" y="608.6" width="5" height="1.7"/>
<rect x="945" y="606.3" width="5" height="2.3"/>
<rect x="952" y="603.2" width="5" height="5.4"/>
<rect x="960" y="607.1" width="5" height="1.5"/>
<rect x="967" y="607.1" width="5" height="1.5"/>
<rect x="975" y="603.2" width="5" height="5.4"/>
<rect x="982" y="600.8" width="5" height="7.8"/>
<rect x="990" y="598.8" width="5" height="9.8"/>
<rect x="998" y="597.2" width="5" height="11.4"/>
<rect x="1005" y="602.8" width="5" height="5.8"/>
<rect x="1013" y="601.8" width="5" height="6.8"/>
<rect x="1020" y="602.2" width="5" height="6.4"/>
<rect x="1028" y="605.9" width="5" height="2.7"/>
<rect x="1035" y="607.3" width="5" height="1.3"/>
<rect x="1043" y="607.1" width="5" height="1.5"/>
<rect x="1051" y="604.8" width="5" height="3.8"/>
<rect x="1058" y="604.8" width="5" height="3.8"/>
<rect x="1066" y="604.2" width="5" height="4.4"/>
<rect x="1073" y="603.8" width="5" height="4.8"/>
<rect x="1081" y="602.8" width="5" height="5.8"/>
<rect x="1088" y="597.2" width="5" height="11.4"/>
<rect x="1096" y="598.8" width="5" height="9.8"/>
<rect x="1104" y="598.2" width="5" height="10.4"/>
<rect x="1111" y="595.9" width="5" height="12.7"/>
<rect x="1119" y="596.5" width="5" height="12.1"/>
</g>
<polyline points="0.5,520.7 7.5,527.3 15.5,527.9 22.5,528.2 30.5,525.7 37.5,530.2 45.5,529.0 53.5,533.6 60.5,531.6 68.5,530.5 75.5,529.6 83.5,533.0 90.5,536.6 98.5,534.6 106.5,526.7 113.5,528.0 121.5,529.2 128.5,527.7 136.5,525.5 143.5,523.3 151.5,529.0 159.5,525.7 166.5,529.0 174.5,530.6 181.5,530.2 189.5,531.6 196.5,528.6 204.5,539.1 212.5,541.1 219.5,540.1 227.5,536.6 234.5,537.5 242.5,544.5 250.5,544.1 257.5,543.5 265.5,544.1 272.5,541.9 280.5,544.7 287.5,542.3 295.5,539.9 303.5,534.0 310.5,530.8 318.5,530.2 325.5,533.0 333.5,536.0 340.5,542.3 348.5,541.5 356.5,540.7 363.5,540.9 371.5,540.3 378.5,545.1 386.5,547.0 393.5,543.1 401.5,542.1 409.5,540.5 416.5,541.5 424.5,543.1 431.5,545.6 439.5,547.8 446.5,546.2 454.5,544.7 462.5,544.9 469.5,545.4 477.5,549.0 484.5,549.4 492.5,551.0 500.5,550.6 507.5,545.4 515.5,540.5 522.5,539.9 530.5,530.6 537.5,531.6 545.5,528.0 553.5,529.6 560.5,525.7 568.5,524.7 575.5,522.7 583.5,527.7 590.5,526.3 598.5,526.1 606.5,529.6 613.5,533.2 621.5,536.0 628.5,539.1 636.5,540.1 643.5,541.5 651.5,543.1 659.5,548.4 666.5,543.5 674.5,543.1 681.5,543.5 689.5,542.3 697.5,541.5 704.5,544.5 712.5,543.1 719.5,539.9 727.5,541.9 734.5,540.5 742.5,536.2 750.5,535.0 757.5,528.6 765.5,537.5 772.5,537.5 780.5,535.2 787.5,537.1 795.5,540.5 803.5,544.9 810.5,536.2 818.5,537.1 825.5,537.3 833.5,538.7 840.5,537.5 848.5,542.7 856.5,533.0 863.5,534.4 871.5,534.2 878.5,532.6 886.5,529.6 893.5,529.0 901.5,538.1 909.5,537.7 916.5,537.9 924.5,536.4 931.5,538.1 939.5,540.3 947.5,536.6 954.5,536.0 962.5,535.2 969.5,536.0 977.5,529.2 984.5,527.1 992.5,524.3 1000.5,527.3 1007.5,527.1 1015.5,526.5 1022.5,527.3 1030.5,533.6 1037.5,532.6 1045.5,531.0 1053.5,537.5 1060.5,536.8 1068.5,535.8 1075.5,533.6 1083.5,533.2 1090.5,526.3 1098.5,525.7 1106.5,524.9 1113.5,521.7 1121.5,523.7" fill="none" stroke="#2a3cff" stroke-width="1.2" stroke-linejoin="round" />
<g shape-rendering="crispEdges">
<rect x="561" y="493" width="20" height="1" fill="#666"/>
<rect x="561" y="495" width="20" height="1" fill="#666"/>
<rect x="561" y="497" width="20" height="1" fill="#666"/>
<rect x="561" y="577" width="20" height="1" fill="#666"/>
<rect x="561" y="579" width="20" height="1" fill="#666"/>
<rect x="561" y="581" width="20" height="1" fill="#666"/>
<rect x="1144" y="23.70" width="5" height="1" fill="#9aa3ad" shape-rendering="auto"/>
<rect x="1144" y="48.49" width="5" height="1" fill="#9aa3ad" shape-rendering="auto"/>
<rect x="1144" y="73.29" width="5" height="1" fill="#9aa3ad" shape-rendering="auto"/>
<rect x="1144" y="98.08" width="5" height="1" fill="#9aa3ad" shape-rendering="auto"/>
<rect x="1144" y="122.88" width="5" height="1" fill="#9aa3ad" shape-rendering="auto"/>
<rect x="1144" y="147.67" width="5" height="1" fill="#9aa3ad" shape-rendering="auto"/>
<rect x="1144" y="172.46" width="5" height="1" fill="#9aa3ad" shape-rendering="auto"/>
<rect x="1144" y="197.26" width="5" height="1" fill="#9aa3ad" shape-rendering="auto"/>
<rect x="1144" y="222.05" width="5" height="1" fill="#9aa3ad" shape-rendering="auto"/>
<rect x="1144" y="246.85" width="5" height="1" fill="#9aa3ad" shape-rendering="auto"/>
<rect x="1144" y="271.64" width="5" height="1" fill="#9aa3ad" shape-rendering="auto"/>
<rect x="1144" y="296.43" width="5" height="1" fill="#9aa3ad" shape-rendering="auto"/>
<rect x="1144" y="321.23" width="5" height="1" fill="#9aa3ad" shape-rendering="auto"/>
<rect x="1144" y="346.02" width="5" height="1" fill="#9aa3ad" shape-rendering="auto"/>
<rect x="1144" y="370.82" width="5" height="1" fill="#9aa3ad" shape-rendering="auto"/>
<rect x="1144" y="395.61" width="5" height="1" fill="#9aa3ad" shape-rendering="auto"/>
<rect x="1144" y="420.40" width="5" height="1" fill="#9aa3ad" shape-rendering="auto"/>
<rect x="1144" y="445.20" width="5" height="1" fill="#9aa3ad" shape-rendering="auto"/>
<rect x="1144" y="469.99" width="5" height="1" fill="#9aa3ad" shape-rendering="auto"/>
<rect x="1144" y="537" width="4" height="1" fill="#b5bcc4"/>
<rect x="1144" y="572" width="4" height="1" fill="#b5bcc4"/>
<rect x="1144" y="608" width="4" height="1" fill="#b5bcc4"/>
<rect x="0" y="626" width="1" height="2" fill="#777"/>
<rect x="30" y="626" width="1" height="2" fill="#777"/>
<rect x="83" y="626" width="1" height="2" fill="#777"/>
<rect x="128" y="626" width="1" height="2" fill="#777"/>
<rect x="174" y="626" width="1" height="2" fill="#777"/>
<rect x="219" y="626" width="1" height="2" fill="#777"/>
<rect x="265" y="626" width="1" height="2" fill="#777"/>
<rect x="318" y="626" width="1" height="2" fill="#777"/>
<rect x="363" y="626" width="1" height="2" fill="#777"/>
<rect x="409" y="626" width="1" height="2" fill="#777"/>
<rect x="454" y="626" width="1" height="2" fill="#777"/>
<rect x="500" y="626" width="1" height="2" fill="#777"/>
<rect x="553" y="626" width="1" height="2" fill="#777"/>
<rect x="598" y="626" width="1" height="2" fill="#777"/>
<rect x="643" y="626" width="1" height="2" fill="#777"/>
<rect x="689" y="626" width="1" height="2" fill="#777"/>
<rect x="734" y="626" width="1" height="2" fill="#777"/>
<rect x="787" y="626" width="1" height="2" fill="#777"/>
<rect x="833" y="626" width="1" height="2" fill="#777"/>
<rect x="878" y="626" width="1" height="2" fill="#777"/>
<rect x="924" y="626" width="1" height="2" fill="#777"/>
<rect x="969" y="626" width="1" height="2" fill="#777"/>
<rect x="1022" y="626" width="1" height="2" fill="#777"/>
<rect x="1068" y="626" width="1" height="2" fill="#777"/>
<rect x="1113" y="626" width="1" height="2" fill="#777"/>
</g>
<g fill="#505050" letter-spacing="-0.15">
<text x="1151.5" y="28.2">1.1400</text>
<text x="1151.5" y="53.0">1.1375</text>
<text x="1151.5" y="102.6">1.1325</text>
<text x="1151.5" y="127.4">1.1300</text>
<text x="1151.5" y="152.2">1.1275</text>
<text x="1151.5" y="177.0">1.1250</text>
<text x="1151.5" y="201.8">1.1225</text>
<text x="1151.5" y="226.6">1.1200</text>
<text x="1151.5" y="251.3">1.1175</text>
<text x="1151.5" y="276.1">1.1150</text>
<text x="1151.5" y="300.9">1.1125</text>
<text x="1151.5" y="325.7">1.1100</text>
<text x="1151.5" y="350.5">1.1075</text>
<text x="1151.5" y="375.3">1.1050</text>
<text x="1151.5" y="400.1">1.1025</text>
<text x="1151.5" y="424.9">1.1000</text>
<text x="1151.5" y="449.7">1.0975</text>
<text x="1151.5" y="474.5">1.0950</text>
<text x="1151.5" y="541.3">50.0000</text>
<text x="1151.5" y="576.8">0.0000</text>
<text x="1151.5" y="612.6">0.0000</text>
<text x="0" y="641.7">Jun</text>
<text x="30.5" y="641.7" text-anchor="middle">7</text>
<text x="83.5" y="641.7" text-anchor="middle">9</text>
<text x="128.5" y="641.7" text-anchor="middle">10</text>
<text x="174.5" y="641.7" text-anchor="middle">11</text>
<text x="219.5" y="641.7" text-anchor="middle">12</text>
<text x="265.5" y="641.7" text-anchor="middle">14</text>
<text x="318.5" y="641.7" text-anchor="middle">16</text>
<text x="363.5" y="641.7" text-anchor="middle">17</text>
<text x="409.5" y="641.7" text-anchor="middle">18</text>
<text x="454.5" y="641.7" text-anchor="middle">19</text>
<text x="500.5" y="641.7" text-anchor="middle">21</text>
<text x="553.5" y="641.7" text-anchor="middle">23</text>
<text x="598.5" y="641.7" text-anchor="middle">24</text>
<text x="643.5" y="641.7" text-anchor="middle">25</text>
<text x="689.5" y="641.7" text-anchor="middle">26</text>
<text x="734.5" y="641.7" text-anchor="middle">28</text>
<text x="787.5" y="641.7" text-anchor="middle">30</text>
<text x="833.5" y="641.7" text-anchor="middle">Jul</text>
<text x="878.5" y="641.7" text-anchor="middle">2</text>
<text x="924.5" y="641.7" text-anchor="middle">3</text>
<text x="969.5" y="641.7" text-anchor="middle">5</text>
<text x="1022.5" y="641.7" text-anchor="middle">7</text>
<text x="1068.5" y="641.7" text-anchor="middle">8</text>
<text x="1113.5" y="641.7" text-anchor="middle">9</text>
</g>
<path d="M1144.5 70.5 L1147 68 L1147 63 L1195 63 L1195 78 L1147 78 L1147 73 Z" fill="#2b3f73"/>
<text x="1152" y="76" fill="#fff" stroke="#fff" stroke-width="0.35" font-weight="bold" letter-spacing="-0.08">1.13533</text>
<rect x="5" y="5" width="80" height="22" fill="#000" fill-opacity="0.6" shape-rendering="crispEdges"/>
<rect x="5" y="5" width="3" height="22" fill="#2f8572" shape-rendering="crispEdges"/>
<text x="16.5" y="20.8" fill="#fff" stroke="#fff" stroke-width="0.3">EUR/USD</text>
<rect x="5" y="32" width="85" height="22" fill="#000" fill-opacity="0.6" shape-rendering="crispEdges"/>
<rect x="5" y="32" width="3" height="22" fill="#0000ff" shape-rendering="crispEdges"/>
<text x="16.5" y="47.8" fill="#fff" stroke="#fff" stroke-width="0.3">SMA (50,0)</text>
<rect x="5" y="59" width="91" height="22" fill="#000" fill-opacity="0.6" shape-rendering="crispEdges"/>
<rect x="5" y="59" width="3" height="22" fill="#d65a42" shape-rendering="crispEdges"/>
<text x="16.5" y="74.8" fill="#fff" stroke="#fff" stroke-width="0.3">SMA (200,0)</text>
<rect x="5" y="86" width="91" height="22" fill="#000" fill-opacity="0.6" shape-rendering="crispEdges"/>
<rect x="5" y="86" width="3" height="22" fill="#00cc00" shape-rendering="crispEdges"/>
<text x="16.5" y="101.8" fill="#fff" stroke="#fff" stroke-width="0.3">SMA (100,0)</text>
<rect x="5" y="504" width="111" height="22" fill="#000" fill-opacity="0.6" shape-rendering="crispEdges"/>
<rect x="5" y="504" width="3" height="22" fill="#22cc22" shape-rendering="crispEdges"/>
<text x="16.5" y="519.8" fill="#fff" stroke="#fff" stroke-width="0.3">RSI (14,70,30,1)</text>
<rect x="5" y="588" width="80" height="22" fill="#000" fill-opacity="0.6" shape-rendering="crispEdges"/>
<rect x="5" y="588" width="3" height="22" fill="#0000ff" shape-rendering="crispEdges"/>
<text x="16.5" y="603.8" fill="#fff" stroke="#fff" stroke-width="0.3">MOM (20)</text>
</svg>
</body></html>
